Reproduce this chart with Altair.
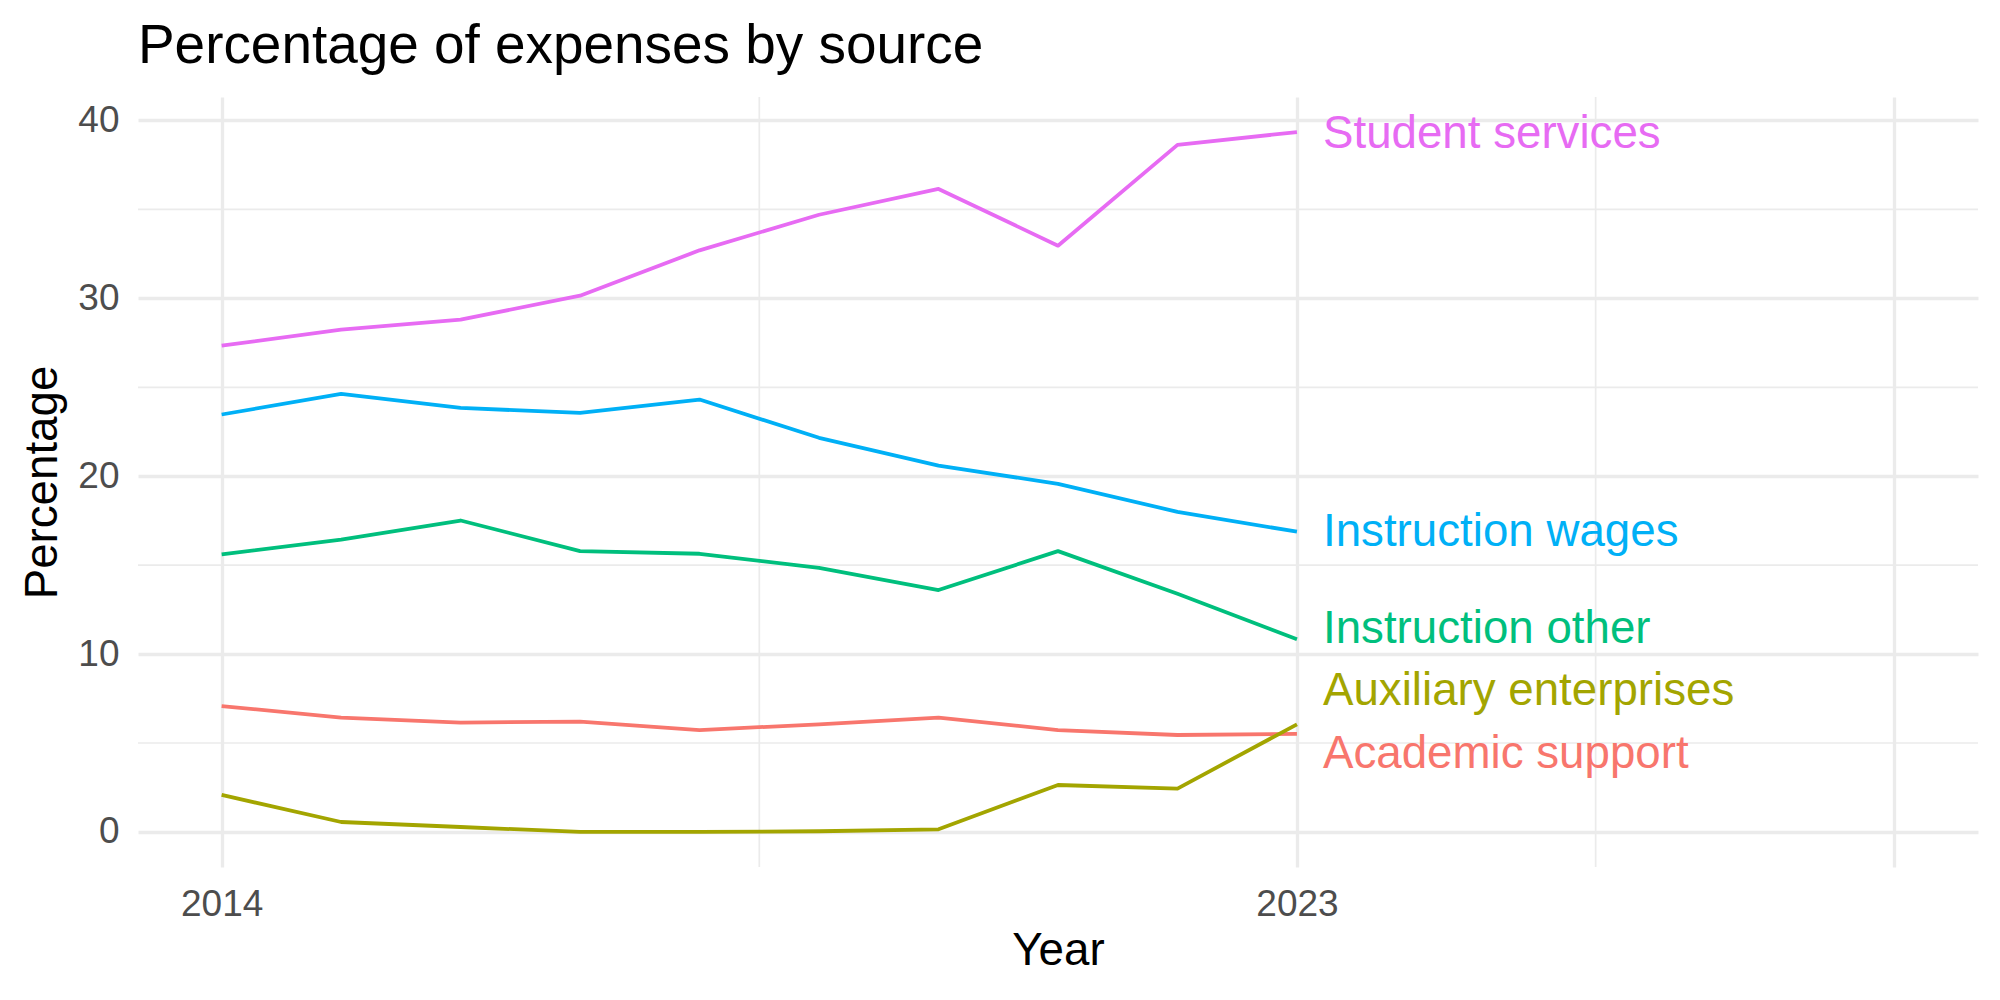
import altair as alt
import pandas as pd

# Share of expenses by source, 2014-2023
years = list(range(2014, 2024))
academic_support = [7.08, 6.43, 6.15, 6.20, 5.73, 6.05, 6.43, 5.73, 5.45, 5.51]
auxiliary_enterprises = [2.08, 0.56, 0.28, 0.0, 0.0, 0.04, 0.15, 2.64, 2.44, 6.05]
instruction_other = [15.60, 16.44, 17.51, 15.79, 15.64, 14.85, 13.60, 15.79, 13.39, 10.83]
instruction_wages = [23.47, 24.63, 23.84, 23.56, 24.31, 22.16, 20.60, 19.57, 18.00, 16.88]
student_services = [27.34, 28.24, 28.80, 30.15, 32.70, 34.70, 36.15, 32.96, 38.63, 39.35]

sources = ["Academic support", "Auxiliary enterprises", "Instruction other",
           "Instruction wages", "Student services"]
colors = ["#F8766D", "#A3A500", "#00BF7D", "#00B0F6", "#E76BF3"]
series = [academic_support, auxiliary_enterprises, instruction_other,
          instruction_wages, student_services]

# end-of-line labels, nudged apart so they do not overlap
label_year = 2023
label_pos = [4.40, 7.93, 11.42, 16.84, 39.25]

x_major = [2014, 2023, 2028]
x_minor = [2018.5, 2025.5]
y_major = [0, 10, 20, 30, 40]
y_minor = [5, 15, 25, 35]

rows = []
for name, vals in zip(sources, series):
    for yr, v in zip(years, vals):
        rows.append({"Year": yr, "Percentage": v, "source": name})
df = pd.DataFrame(rows)
labels = pd.DataFrame({"Year": [label_year] * len(sources),
                       "Percentage": label_pos, "source": sources})

FONT = "Liberation Sans"
GRID = "#EBEBEB"

x_scale = alt.Scale(domain=[2013.3, 2028.7], nice=False, zero=False)
y_scale = alt.Scale(domain=[-1.97, 41.32], nice=False, zero=False)
color_scale = alt.Scale(domain=sources, range=colors)

x_axis = alt.Axis(values=x_major, format="d",
                  labelExpr="datum.value == 2028 ? '' : datum.label",
                  grid=True, gridColor=GRID, gridWidth=3.3,
                  domain=False, ticks=False,
                  labelFontSize=37, labelColor="#4D4D4D", labelPadding=19,
                  labelFont=FONT, title="Year", titleFont=FONT,
                  titleFontSize=45.7, titleFontWeight="normal", titleColor="black",
                  titleBaseline="alphabetic", titleY=97)
y_axis = alt.Axis(values=y_major, grid=True, gridColor=GRID, gridWidth=3.3,
                  domain=False, ticks=False,
                  labelFontSize=37, labelColor="#4D4D4D", labelPadding=19,
                  labelFont=FONT, title="Percentage", titleFont=FONT,
                  titleFontSize=45.7, titleFontWeight="normal", titleColor="black",
                  titleBaseline="alphabetic", titleX=-82, titleY=385, titleAngle=-90)

minor_x = alt.Chart(pd.DataFrame({"Year": x_minor})).mark_rule(
    color=GRID, strokeWidth=1.7).encode(x=alt.X("Year:Q", scale=x_scale))
minor_y = alt.Chart(pd.DataFrame({"Percentage": y_minor})).mark_rule(
    color=GRID, strokeWidth=1.7).encode(y=alt.Y("Percentage:Q", scale=y_scale))

lines = alt.Chart(df).mark_line(strokeWidth=3.8, strokeJoin="round").encode(
    x=alt.X("Year:Q", scale=x_scale, axis=x_axis),
    y=alt.Y("Percentage:Q", scale=y_scale, axis=y_axis),
    color=alt.Color("source:N", scale=color_scale, legend=None),
    detail="source:N",
)

text = alt.Chart(labels).mark_text(
    align="left", baseline="middle", dx=26, fontSize=45.7, font=FONT
).encode(
    x=alt.X("Year:Q", scale=x_scale),
    y=alt.Y("Percentage:Q", scale=y_scale),
    text="source:N",
    color=alt.Color("source:N", scale=color_scale, legend=None),
)

chart = alt.layer(minor_x, minor_y, lines, text).properties(
    width=1840, height=770,
    background="white",
    autosize=alt.AutoSizeParams(type="none"),
    padding={"left": 138, "top": 97, "right": 22, "bottom": 133},
    title=alt.Title("Percentage of expenses by source", anchor="start",
                    frame="group", font=FONT, fontSize=54.9,
                    fontWeight="normal", color="black",
                    baseline="alphabetic", offset=37, dy=59),
).configure_view(stroke=None).configure_axis(domain=False, ticks=False)

chart.save("out.html", embed_options={"renderer": "svg", "actions": False})
